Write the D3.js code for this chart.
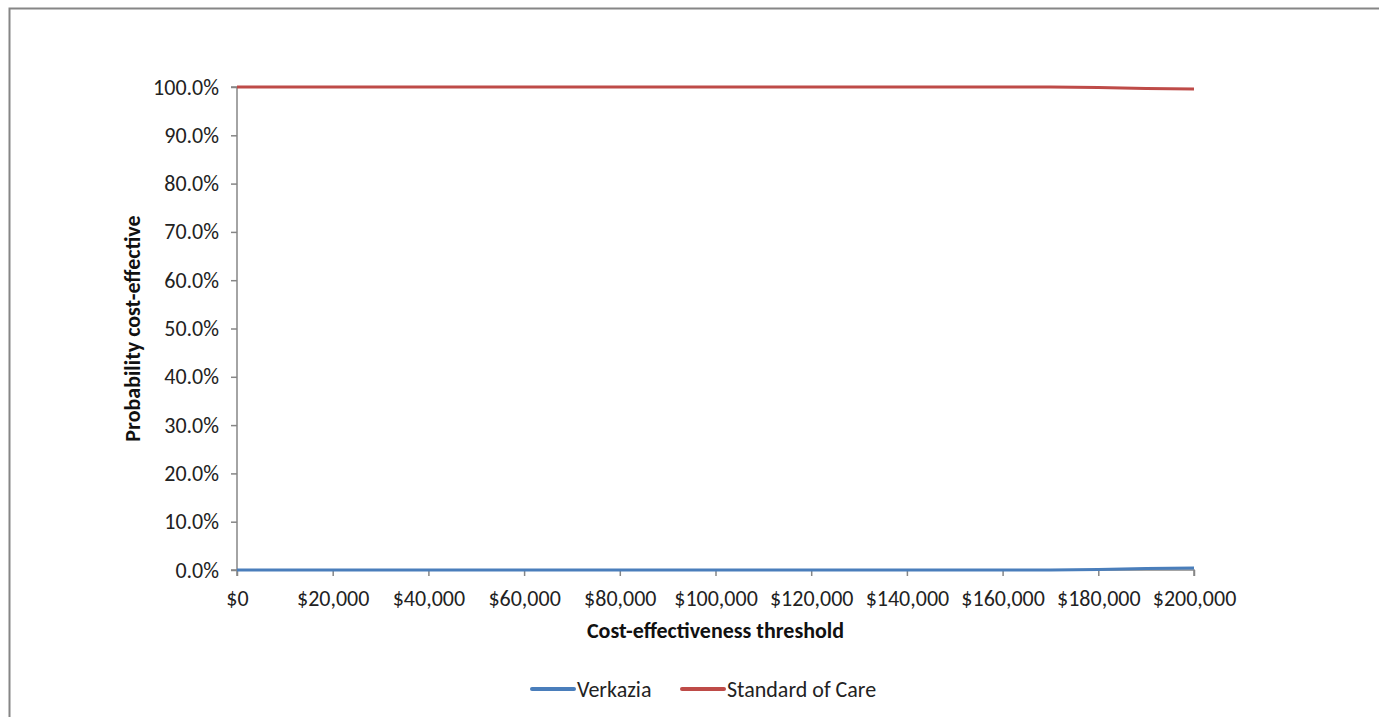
<!DOCTYPE html>
<html>
<head>
<meta charset="utf-8">
<script src="https://cdn.jsdelivr.net/npm/d3@7"></script>
<style>
  body { margin: 0; background: #fff; }
  svg text { font-family: Carlito, Calibri, Lato, "Open Sans", sans-serif; }
</style>
</head>
<body>
<svg id="chart" width="1379" height="717"></svg>
<script>
(function () {
    'use strict';

    // thresholds in dollars
    var thresholds = [0, 10000, 20000, 30000, 40000, 50000, 60000, 70000, 80000, 90000,
        100000, 110000, 120000, 130000, 140000, 150000, 160000, 170000, 180000, 190000, 200000];
    var verkazia = [0, 0, 0, 0, 0, 0, 0, 0, 0, 0, 0, 0, 0, 0, 0, 0, 0, 0, 0.001, 0.003, 0.004];
    var standardOfCare = [1, 1, 1, 1, 1, 1, 1, 1, 1, 1, 1, 1, 1, 1, 1, 1, 1, 1, 0.999, 0.997, 0.996];
    var xTicks = [0, 20000, 40000, 60000, 80000, 100000, 120000, 140000, 160000, 180000, 200000];
    var yTicks = [0, 0.1, 0.2, 0.3, 0.4, 0.5, 0.6, 0.7, 0.8, 0.9, 1.0];

    var series = [
        {name: "Verkazia", values: verkazia, color: "#4a7ebb"},
        {name: "Standard of Care", values: standardOfCare, color: "#be4b48"}
    ];

    var fontSize = "22px";
    var svg = d3.select("#chart");

    // chart border
    svg.append("rect")
        .attr("x", 9.5).attr("y", 8.5)
        .attr("width", 1400).attr("height", 720)
        .attr("fill", "none")
        .attr("stroke", "#868686")
        .attr("stroke-width", 2);

    var x = d3.scaleLinear().domain([0, 200000]).range([237, 1194]);
    var y = d3.scaleLinear().domain([0, 1]).range([570, 87]);

    var xAxis = svg.append("g")
        .attr("transform", "translate(0," + y(0) + ")")
        .call(d3.axisBottom(x).tickValues(xTicks).tickSize(6).tickPadding(14)
            .tickFormat(function (d) { return "$" + d3.format(",")(d); }));

    var yAxis = svg.append("g")
        .attr("transform", "translate(" + x(0) + ",0)")
        .call(d3.axisLeft(y).tickValues(yTicks).tickSize(6).tickPadding(12)
            .tickFormat(d3.format(".1%")));

    [xAxis, yAxis].forEach(function (g) {
        g.attr("font-family", null).attr("font-size", null);
        g.select(".domain").attr("stroke", "#868686").attr("stroke-width", 1.5);
        g.selectAll(".tick line").attr("stroke", "#868686").attr("stroke-width", 1.5);
        g.selectAll(".tick text").attr("fill", "#222").style("font-size", fontSize);
    });
    yAxis.select(".domain").attr("d", "M-6," + y(1) + "H0V" + y(0) + "H-6");
    xAxis.select(".domain").attr("d", "M" + x(0) + ",6V0H" + x(200000) + "V6");

    var line = d3.line()
        .x(function (d, i) { return x(thresholds[i]); })
        .y(function (d) { return y(d); });

    series.forEach(function (s) {
        svg.append("path")
            .datum(s.values)
            .attr("fill", "none")
            .attr("stroke", s.color)
            .attr("stroke-width", 3)
            .attr("d", line);
    });

    // axis titles
    svg.append("text")
        .attr("x", (x(0) + x(200000)) / 2)
        .attr("y", 638)
        .attr("text-anchor", "middle")
        .style("font-size", fontSize)
        .style("font-weight", "bold")
        .attr("fill", "#111")
        .text("Cost-effectiveness threshold");

    svg.append("text")
        .attr("transform", "translate(140," + ((y(0) + y(1)) / 2) + ") rotate(-90)")
        .attr("text-anchor", "middle")
        .style("font-size", fontSize)
        .style("font-weight", "bold")
        .attr("fill", "#111")
        .text("Probability cost-effective");

    // legend
    var legendX = [530, 680];
    series.forEach(function (s, i) {
        var g = svg.append("g").attr("transform", "translate(" + legendX[i] + ",689)");
        g.append("line")
            .attr("x1", 2).attr("x2", 44)
            .attr("stroke", s.color)
            .attr("stroke-width", 4)
            .attr("stroke-linecap", "round");
        g.append("text")
            .attr("x", 47).attr("dy", "0.35em")
            .style("font-size", fontSize)
            .attr("fill", "#222")
            .text(s.name);
    });
}());
</script>
</body>
</html>
